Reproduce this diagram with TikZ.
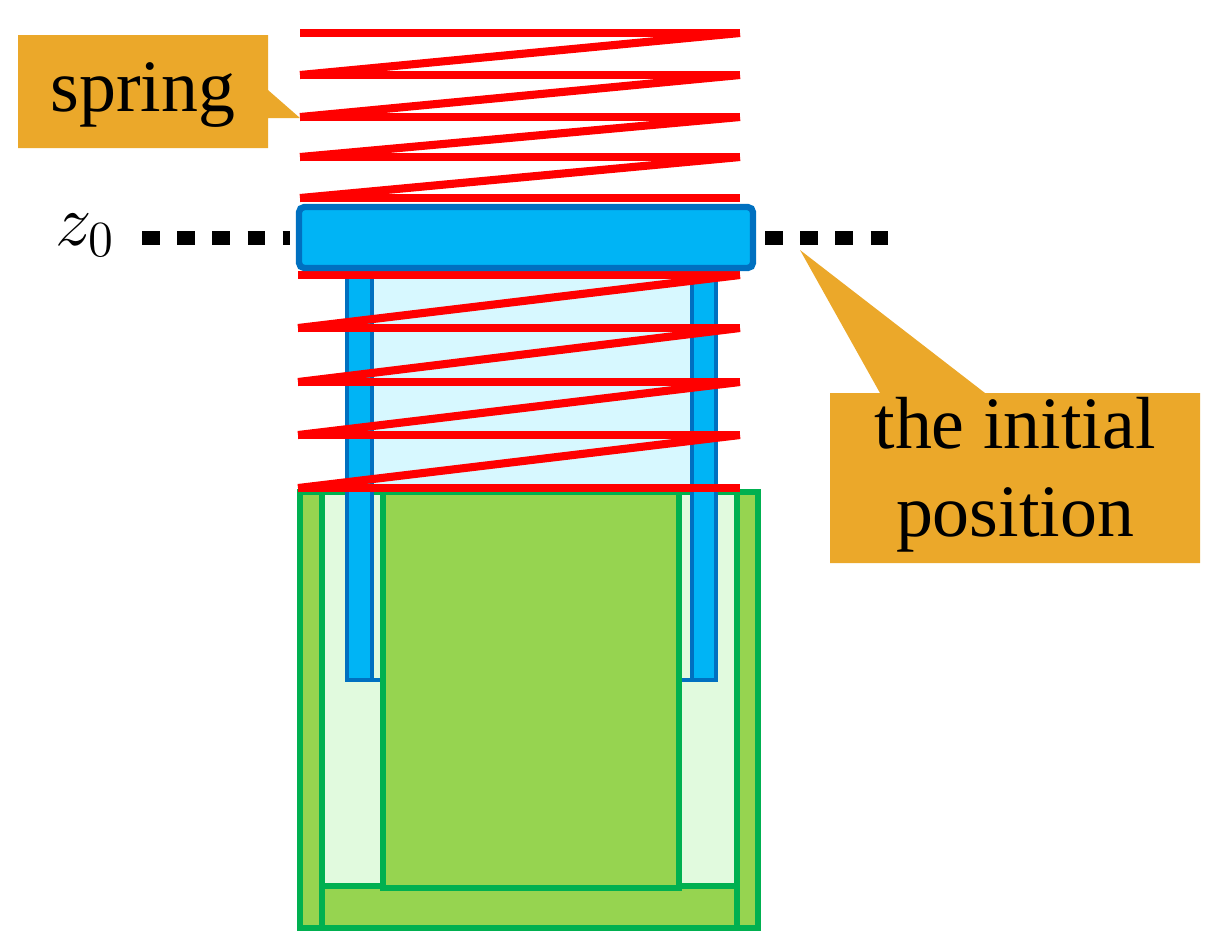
\documentclass[tikz,border=0pt]{standalone}
\usepackage{fontspec}
\setmainfont{Liberation Serif}
\begin{document}
\begin{tikzpicture}[x=0.01cm,y=-0.01cm,
 spr/.style={draw=red,line width=2.3pt}]
\definecolor{co}{HTML}{EBA82A}
\definecolor{bl}{HTML}{00B4F5}\definecolor{bld}{HTML}{0070C0}
\definecolor{gr}{HTML}{96D450}\definecolor{grd}{HTML}{00B050}
\definecolor{lg}{HTML}{E1FADE}\definecolor{lc}{HTML}{D7F8FF}
\useasboundingbox (0,0) rectangle (1230,950);
% cylinder
\draw[grd,line width=1.5pt,fill=lg] (300,492) rectangle (758,928);
\draw[grd,line width=1.5pt,fill=gr] (300,492) rectangle (322,928);
\draw[grd,line width=1.5pt,fill=gr] (737,492) rectangle (758,928);
\draw[grd,line width=1.5pt,fill=gr] (322,886) rectangle (737,928);
% cyan inside
\fill[lc] (372,268) rectangle (692,492);
% rods
\draw[bld,line width=1.3pt,fill=bl] (347,268) rectangle (372,680);
\draw[bld,line width=1.3pt,fill=bl] (692,268) rectangle (716,680);
\draw[bld,line width=1.3pt] (372,680) -- (383,680) (679,680) -- (692,680);
% piston
\draw[grd,line width=1.5pt,fill=gr] (383,492) rectangle (679,888);
% springs
\foreach \a/\b in {33/75,75/117,117/157,157/198}{\draw[spr] (300,\b) -- (740,\a);}
\foreach \y in {33,75,117,157,198}{\draw[spr] (300,\y) -- (740,\y);}
\foreach \a/\b in {275/328,328/382,382/435,435/488}{\draw[spr] (298,\b) -- (740,\a);}
\foreach \y in {275,328,382,435,488}{\draw[spr] (298,\y) -- (740,\y);}
% plate
\draw[bld,line width=1.8pt,fill=bl,rounded corners=1.5pt] (299,207) rectangle (753,268);
% dotted line
\draw[line width=4pt,dash pattern=on 5pt off 5pt] (142,238) -- (290,238);
\draw[line width=4pt,dash pattern=on 5pt off 5pt] (765,238) -- (900,238);
\node (z) at (85,235) {\fontsize{20}{20}\selectfont$z_0$};
% callouts
\fill[co] (18,35) -- (268,35) -- (268,90) -- (300,118) -- (268,118) -- (268,148) -- (18,148) -- cycle;
\node (spring) at (143,95) {\fontsize{21}{21}\selectfont spring};
\fill[co] (830,393) -- (880,393) -- (800,250) -- (985,393) -- (1200,393) -- (1200,563) -- (830,563) -- cycle;
\node[align=center,font=\fontsize{21}{25}\selectfont] (init) at (1015,475) {the initial\\position};
\end{tikzpicture}
\end{document}
